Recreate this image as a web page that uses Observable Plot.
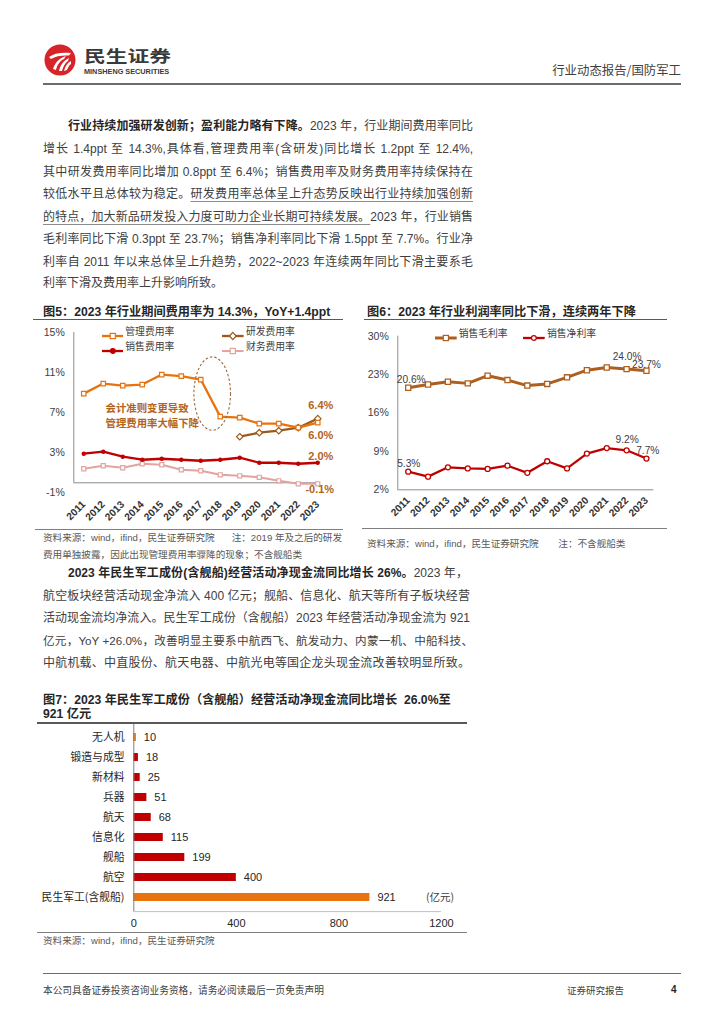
<!DOCTYPE html>
<html><head><meta charset="utf-8">
<script src="https://cdn.jsdelivr.net/npm/d3@7"></script>
<script src="https://cdn.jsdelivr.net/npm/@observablehq/plot@0.6"></script>
<style>
body{margin:0;width:724px;height:1024px;position:relative;background:#fff;font-family:"Noto Sans CJK SC",sans-serif;color:#404040;overflow:hidden}
.abs{position:absolute}
.tl{position:absolute;font-family:"Liberation Sans","Noto Sans CJK SC",sans-serif;font-size:12px;line-height:20px;height:20px;text-align:justify;text-align-last:justify;color:#404040}
.tl b{color:#262626}
.u{text-decoration:underline;text-decoration-color:#8c8c8c;text-underline-offset:3px}
.hr{position:absolute;background:#595959}
.ttl{position:absolute;font-family:"Liberation Sans","Noto Sans CJK SC",sans-serif;font-size:12.2px;font-weight:bold;color:#262626;line-height:14px;white-space:nowrap}
.src{position:absolute;font-family:"Liberation Sans","Noto Sans CJK SC",sans-serif;font-size:9.6px;color:#595959;line-height:12px;white-space:nowrap}
.lg{position:absolute;font-size:9.8px;color:#404040;line-height:14px;white-space:nowrap}
</style></head>
<body>
<div id="page"></div>
<script>
// ---------------- data ----------------
const years = [2011,2012,2013,2014,2015,2016,2017,2018,2019,2020,2021,2022,2023];
const mgmtRate  = [8.9,9.9,9.7,9.8,10.8,10.65,10.3,6.6,6.5,5.9,5.9,5.5,6.0];
const rdRate    = [null,null,null,null,null,null,null,null,4.6,5.0,5.2,5.5,6.4];
const salesRate = [2.9,3.1,2.6,2.3,2.4,2.3,2.2,2.3,2.5,2.0,2.0,1.9,2.0];
const finRate   = [1.4,1.7,1.5,1.9,1.8,1.3,1.2,0.8,0.7,0.55,0.2,-0.1,-0.1];
const feeNames  = ["管理费用率","研发费用率","销售费用率","财务费用率"];
const feeTicks  = [-1,3,7,11,15];
const feeNote   = ["会计准则变更导致","管理费用率大幅下降"];

const grossMargin = [20.6,21.2,21.7,21.4,22.8,22.0,21.0,21.3,22.5,23.8,24.3,24.0,23.7];
const netMargin   = [5.3,4.4,6.1,5.9,5.8,6.4,5.1,7.2,5.9,8.6,9.6,9.2,7.7];
const marginNames = ["销售毛利率","销售净利率"];
const marginTicks = [2,9,16,23,30];
const marginLabelYears = [2011,2022,2023];

const sectors  = ["无人机","锻造与成型","新材料","兵器","航天","信息化","舰船","航空","民生军工(含舰船)"];
const cashFlow = [10,18,25,51,68,115,199,400,921];
const cashTicks = [0,400,800,1200];
const highlightSectors = ["无人机","民生军工(含舰船)"];

// ---------------- styles ----------------
const FONT = '"Liberation Sans","Noto Sans CJK SC",sans-serif';
const ORANGE="#E8730E", BROWN="#9C5A1C", RED="#C00000", PINK="#E3A3A1", LBL="#B4631D", GBROWN="#AE5F1E";
const feeStyle = {
  "管理费用率":{color:ORANGE,symbol:"square",fill:"#fff",w:2.3,r:2.5},
  "研发费用率":{color:BROWN,symbol:"diamond2",fill:"#fff",w:2.3,r:2.9},
  "销售费用率":{color:RED,symbol:"circle",fill:RED,w:2.3,r:1.6},
  "财务费用率":{color:PINK,symbol:"square",fill:"#fff",w:2,r:2.3}
};
const marginStyle = {
  "销售毛利率":{color:GBROWN,symbol:"square",fill:"#fff",w:3,r:2.9},
  "销售净利率":{color:RED,symbol:"circle",fill:"#fff",w:2.3,r:2.5}
};

const page = document.getElementById("page");
function el(tag, cls, css, html){const e=document.createElement(tag); if(cls)e.className=cls; if(css)e.style.cssText=css; if(html!=null)e.innerHTML=html; page.appendChild(e); return e;}
function tline(left,cy,width,html,last,fs){return el("div","tl",`left:${left}px;top:${cy-10}px;width:${width}px;${last?"text-align-last:left;":""}${fs?"font-size:"+fs+"px;":""}`,html);}
function hr(left,top,width,h,color){return el("div","hr",`left:${left}px;top:${top}px;width:${width}px;height:${h}px;background:${color||"#595959"}`);}

// ---------------- header ----------------
el("div","abs","left:44px;top:44px;width:32px;height:32px",
 `<svg width="32" height="32" viewBox="0 0 32 32"><circle cx="16" cy="16" r="15.5" fill="#D7242A"/>
 <path d="M5 13 C10 9,18 8,27 9 L25 11.5 C18 11,12 12,7 15Z" fill="#fff"/>
 <path d="M9 25 C11 19,15 14,22 12 L20 15 C16 17,13 21,12 26Z" fill="#fff"/>
 <path d="M15 27 C16 22,19 17,25 14 L24 17 C21 19,19 23,18 27Z" fill="#fff"/>
 <path d="M20 27 C21 23,23 19,27 17 L27 20 C25 21,24 24,23 26Z" fill="#fff"/></svg>`);
el("div","abs","left:84px;top:45px;font-size:16px;line-height:20px;font-weight:bold;color:#3a3a3a;transform:scaleX(1.36);transform-origin:0 0;white-space:nowrap","民生证券");
el("div","abs",`left:84px;top:66.5px;font-family:${FONT};font-size:7.3px;line-height:9px;font-weight:bold;color:#3a3a3a;white-space:nowrap`,"MINSHENG SECURITIES");
el("div","abs","left:540px;width:141px;top:62px;font-size:12.4px;line-height:16px;color:#404040;text-align:right;white-space:nowrap","行业动态报告/国防军工");
hr(43,83,638,1.5,"#6b6b6b");

// ---------------- paragraph 1 ----------------
const p1 = [
 [68,126,405,"<b>行业持续加强研发创新；盈利能力略有下降。</b>2023 年，行业期间费用率同比"],
 [43,149.3,430,"增长 1.4ppt 至 14.3%,具体看,管理费用率(含研发)同比增长 1.2ppt 至 12.4%,"],
 [43,171.7,430,"其中研发费用率同比增加 0.8ppt 至 6.4%；销售费用率及财务费用率持续保持在"],
 [43,194.3,430,"较低水平且总体较为稳定。<span class='u'>研发费用率总体呈上升态势反映出行业持续加强创新</span>"],
 [43,216.7,430,"<span class='u'>的特点，加大新品研发投入力度可助力企业长期可持续发展。</span>2023 年，行业销售"],
 [43,239.3,430,"毛利率同比下滑 0.3ppt 至 23.7%；销售净利率同比下滑 1.5ppt 至 7.7%。行业净"],
 [43,261.7,430,"利率自 2011 年以来总体呈上升趋势，2022~2023 年连续两年同比下滑主要系毛"],
 [43,283.3,430,"利率下滑及费用率上升影响所致。",true]
];
p1.forEach(a=>tline(a[0],a[1],a[2],a[3],a[4]));

// ---------------- chart titles / separators ----------------
el("div","ttl","left:43px;top:304.5px","图5：2023 年行业期间费用率为 14.3%，YoY+1.4ppt");
hr(33,318.5,310,1.5);
el("div","ttl","left:367px;top:304.5px","图6：2023 年行业利润率同比下滑，连续两年下降");
hr(364,318.5,303,1.5);

// legends
function legendItem(x,cy,sw,color,symbol,fill,w,label){
  let sym="";
  const c=sw/2;
  if(symbol==="square") sym=`<rect x="${c-2.6}" y="4.4" width="5.2" height="5.2" fill="${fill}" stroke="${color}" stroke-width="1.2"/>`;
  else if(symbol==="diamond2") sym=`<polygon points="${c},3.4 ${c+3.4},7 ${c},10.6 ${c-3.4},7" fill="${fill}" stroke="${color}" stroke-width="1.2"/>`;
  else sym=`<circle cx="${c}" cy="7" r="2.4" fill="${fill}" stroke="${color}" stroke-width="1.2"/>`;
  el("div","abs",`left:${x}px;top:${cy-7}px;width:${sw}px;height:14px`,
    `<svg width="${sw}" height="14"><line x1="0" y1="7" x2="${sw}" y2="7" stroke="${color}" stroke-width="${w}"/>${sym}</svg>`);
  el("div","lg",`left:${x+sw+2}px;top:${cy-7}px`,label);
}
const legPos5 = [[101.7,330.7],[222.3,330.7],[101.7,346.3],[222.3,346.3]];
feeNames.forEach((n,i)=>{const s=feeStyle[n]; legendItem(legPos5[i][0],legPos5[i][1],21.6,s.color,s.symbol,s.fill,s.w,n);});
const legPos6 = [[435,332.5],[523.3,332.5]];
marginNames.forEach((n,i)=>{const s=marginStyle[n]; legendItem(legPos6[i][0],legPos6[i][1],21.7,s.color,s.symbol,s.fill,s.w,n);});

function place(node,left,top){const d=el("div","abs",`left:${left}px;top:${top}px`); d.appendChild(node);}

// ---------------- chart 5 ----------------
const feeRows=[];
[mgmtRate,rdRate,salesRate,finRate].forEach((arr,k)=>arr.forEach((v,i)=>{if(v!=null)feeRows.push({series:feeNames[k],year:years[i],value:v});}));
const x5=[2010.49,2023.14];
const endOffsets5 = {"管理费用率":[3,12.5],"研发费用率":[3,-13.5],"销售费用率":[3,-6.5],"财务费用率":[2,6]};
const marks5=[
  Plot.ruleX([x5[0]],{y1:0,y2:15,stroke:"#8c8c8c",strokeWidth:1}),
  Plot.ruleY([0],{stroke:"#8c8c8c",strokeWidth:1}),
  Plot.axisY({ticks:feeTicks,tickSize:0,tickPadding:9,tickFormat:d=>d+"%",fontSize:10.5,label:null}),
  Plot.axisX({ticks:years,tickSize:0,tickPadding:10,tickRotate:-45,tickFormat:d=>String(d),fontSize:10.2,fontWeight:"bold",fill:"#333",label:null})
];
const drawOrder5=["财务费用率","销售费用率","研发费用率","管理费用率"];
drawOrder5.forEach(n=>{const s=feeStyle[n]; const rows=feeRows.filter(d=>d.series===n);
  marks5.push(Plot.line(rows,{x:"year",y:"value",stroke:s.color,strokeWidth:s.w}));
  marks5.push(Plot.dot(rows,{x:"year",y:"value",symbol:s.symbol,r:s.r,fill:s.fill,stroke:s.color,strokeWidth:1.2}));
});
feeNames.forEach(n=>{const last=feeRows.filter(d=>d.series===n&&d.year===2023);
  marks5.push(Plot.text(last,{x:"year",y:"value",text:d=>d.value.toFixed(1)+"%",dx:endOffsets5[n][0],dy:endOffsets5[n][1],fill:LBL,fontWeight:"bold",fontSize:11}));
});
feeNote.forEach((t,i)=>marks5.push(Plot.text([t],{frameAnchor:"top-left",text:d=>d,textAnchor:"start",lineAnchor:"middle",dx:31.7,dy:75.7+i*15,fill:LBL,fontWeight:"bold",fontSize:10.4})));
// dashed ellipse around the 2017-2018 drop
marks5.push(function(index,scales){
  const i17=years.indexOf(2017), i18=years.indexOf(2018);
  const cx=(scales.x(years[i17])+scales.x(years[i18]))/2+2.2;
  const cy=(scales.y(mgmtRate[i17])+scales.y(mgmtRate[i18]))/2-4;
  const g=d3.create("svg:g");
  g.append("ellipse").attr("cx",cx).attr("cy",cy).attr("rx",18.3).attr("ry",36.7)
   .attr("fill","none").attr("stroke","#9C6A3C").attr("stroke-width",1.1).attr("stroke-dasharray","2.5,2");
  return g.node();
});
const chart5=Plot.plot({
  width:310,height:205,marginLeft:43.3,marginRight:20,marginTop:12,marginBottom:32.7,
  style:{fontFamily:FONT,fontSize:"10.5px",color:"#404040",background:"transparent",overflow:"visible"},
  x:{type:"linear",domain:x5,axis:null},
  y:{domain:[-1,15],axis:null},
  marks:marks5
});
place(chart5,30,320);

// ---------------- chart 6 ----------------
const marginRows=[];
[grossMargin,netMargin].forEach((arr,k)=>arr.forEach((v,i)=>marginRows.push({series:marginNames[k],year:years[i],value:v})));
const x6=[2010.476,2023.37];
const lblOff6={"销售毛利率":{2011:[3,-8],2022:[0.5,-12.6],2023:[0,-6.5]},"销售净利率":{2011:[0.6,-8.4],2022:[0.5,-11],2023:[1.3,-7.5]}};
const marks6=[
  Plot.ruleX([x6[0]],{stroke:"#8c8c8c",strokeWidth:1}),
  Plot.ruleY([2],{stroke:"#8c8c8c",strokeWidth:1}),
  Plot.axisY({ticks:marginTicks,tickSize:0,tickPadding:9,tickFormat:d=>d+"%",fontSize:10.5,label:null}),
  Plot.axisX({ticks:years,tickSize:0,tickPadding:9,tickRotate:-45,tickFormat:d=>String(d),fontSize:10.2,fontWeight:"bold",fill:"#333",label:null})
];
marginNames.forEach(n=>{const s=marginStyle[n]; const rows=marginRows.filter(d=>d.series===n);
  marks6.push(Plot.line(rows,{x:"year",y:"value",stroke:s.color,strokeWidth:s.w}));
  marks6.push(Plot.dot(rows,{x:"year",y:"value",symbol:s.symbol,r:s.r,fill:s.fill,stroke:s.color,strokeWidth:1.3}));
  marginLabelYears.forEach(yr=>{const o=lblOff6[n][yr];
    marks6.push(Plot.text(rows.filter(d=>d.year===yr),{x:"year",y:"value",text:d=>d.value.toFixed(1)+"%",dx:o[0],dy:o[1],fill:"#404040",fontSize:10.2}));
  });
});
const chart6=Plot.plot({
  width:310,height:205,marginLeft:37.3,marginRight:16.7,marginTop:15.7,marginBottom:35.7,
  style:{fontFamily:FONT,fontSize:"10.5px",color:"#404040",background:"transparent",overflow:"visible"},
  x:{type:"linear",domain:x6,axis:null},
  y:{domain:[2,30],axis:null},
  marks:marks6
});
place(chart6,360,320);

// sources for charts 5/6
hr(35,529,308,1,"#7f7f7f");
hr(362,528,305,1,"#7f7f7f");
el("div","src","left:43px;top:531.7px","资料来源：wind，ifind，民生证券研究院");
el("div","src","left:231.7px;top:531.7px","注：2019 年及之后的研发");
el("div","src","left:43px;top:549px","费用单独披露，因此出现管理费用率骤降的现象；不含舰船类");
el("div","src","left:367px;top:538.3px","资料来源：wind，ifind，民生证券研究院");
el("div","src","left:558.3px;top:538.3px","注：不含舰船类");

// ---------------- paragraph 2 ----------------
const p2=[
 [68,573.3,400,"<b>2023 年民生军工成份(含舰船)经营活动净现金流同比增长 26%。</b>2023 年，"],
 [43,596,427,"航空板块经营活动现金净流入 400 亿元；舰船、信息化、航天等所有子板块经营"],
 [43,618.3,427,"活动现金流均净流入。民生军工成份（含舰船）2023 年经营活动净现金流为 921"],
 [43,641,430,"亿元，YoY +26.0%，改善明显主要系中航西飞、航发动力、内蒙一机、中船科技、",false,11.6],
 [43,663.3,427,"中航机载、中直股份、航天电器、中航光电等国企龙头现金流改善较明显所致。"]
];
p2.forEach(a=>tline(a[0],a[1],a[2],a[3],a[4],a[5]));

// ---------------- chart 7 ----------------
el("div","ttl","left:43px;top:693px","图7：2023 年民生军工成份（含舰船）经营活动净现金流同比增长&nbsp;&nbsp;26.0%至<br>921 亿元");
hr(37,722,430,1.5);
const cashRows=sectors.map((s,i)=>({sector:s,value:cashFlow[i]}));
const chart7=Plot.plot({
  width:440,height:212,marginLeft:103.3,marginRight:29.1,marginTop:0.9,marginBottom:23.9,
  style:{fontFamily:FONT,fontSize:"11px",color:"#262626",background:"transparent",overflow:"visible"},
  x:{domain:[0,1200],axis:null},
  y:{domain:sectors,paddingInner:0.58,paddingOuter:0.29,axis:null},
  marks:[
    Plot.barX(cashRows,{x:"value",y:"sector",fill:d=>highlightSectors.includes(d.sector)?ORANGE:RED}),
    Plot.ruleX([0],{stroke:"#7f7f7f",strokeWidth:1}),
    function(index,scales,values,dims){
      const g=d3.create("svg:g");
      g.append("line").attr("x1",dims.marginLeft).attr("x2",dims.width-dims.marginRight)
        .attr("y1",dims.height-dims.marginBottom+0.5).attr("y2",dims.height-dims.marginBottom+0.5)
        .attr("stroke","#bfbfbf").attr("stroke-width",1);
      return g.node();
    },
    Plot.axisY({tickSize:0,tickPadding:9.3,fontSize:10.8,fontFamily:'"Noto Sans CJK SC",sans-serif',label:null}),
    Plot.axisX({ticks:cashTicks,tickSize:0,tickPadding:8,fontSize:11,tickFormat:d=>String(d),label:null}),
    Plot.text(cashRows,{x:"value",y:"sector",text:d=>String(d.value),dx:7.5,textAnchor:"start",fontSize:11,fill:"#262626"})
  ]
});
place(chart7,30,723);
el("div","abs","left:426px;top:889.7px;font-size:10.5px;line-height:14px;color:#404040;white-space:nowrap","(亿元)");
hr(37,931.5,430,1,"#7f7f7f");
el("div","src","left:43px;top:935px","资料来源：wind，ifind，民生证券研究院");

// ---------------- footer ----------------
hr(43,972.5,638,1.5,"#6b6b6b");
el("div","abs","left:43px;top:983px;font-size:9.7px;line-height:14px;color:#404040;white-space:nowrap","本公司具备证券投资咨询业务资格，请务必阅读最后一页免责声明");
el("div","abs","left:567px;top:983px;font-size:9.5px;line-height:14px;color:#404040;white-space:nowrap","证券研究报告");
el("div","abs",`left:671px;top:983px;font-size:10px;line-height:14px;font-weight:bold;color:#262626;font-family:${FONT}`,"4");
</script>
</body></html>
